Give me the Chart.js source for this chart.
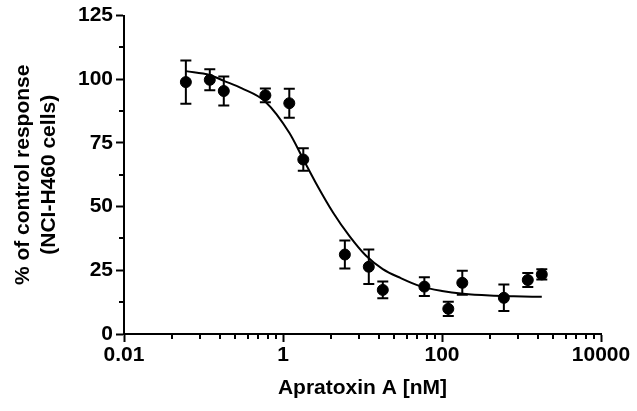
<!DOCTYPE html>
<html>
<head>
<meta charset="utf-8">
<script src="https://cdn.jsdelivr.net/npm/chart.js@4.4.0/dist/chart.umd.min.js"></script>
<style>
  html, body { margin: 0; padding: 0; background: #fff; }
</style>
</head>
<body>
<canvas id="Chart" width="637" height="411"></canvas>
<script>
// concentrações (nM) e respostas medidas
const conc = [0.06, 0.12, 0.18, 0.6, 1.2, 1.8, 6, 12, 18, 60, 120, 180, 600, 1200, 1800];
const response = [98.9, 99.8, 95.4, 93.7, 90.6, 68.5, 31.2, 26.4, 17.3, 18.6, 9.9, 20.1, 14.2, 21.2, 23.4];
const sem = [8.5, 4.1, 5.7, 2.7, 5.7, 4.4, 5.5, 6.8, 3.3, 3.7, 2.8, 4.7, 5.2, 2.7, 2.0];

// curva ajustada
const curveConc = [0.06, 0.12, 0.18, 0.3, 0.6, 1.2, 1.8, 2.6, 4.3, 6.9, 11, 18, 30, 53, 100, 185, 400, 800, 1800];
const curveFit = [103.2, 101.7, 99.4, 96.5, 91.2, 79.0, 68.6, 59.2, 47.5, 38.3, 30.8, 25.5, 22.0, 18.8, 16.9, 15.8, 15.1, 14.8, 14.6];

// eixos
const xMajorTicks = [0.01, 1, 100, 10000];
const xMinorTicks = [0.04, 0.09, 0.16, 0.25, 0.36, 0.49, 0.64, 0.81,
                     4, 9, 16, 25, 36, 49, 64, 81,
                     400, 900, 1600, 2500, 3600, 4900, 6400, 8100];
const yMinorTicks = [12.5, 37.5, 62.5, 87.5, 112.5];

const fontFamily = "'Liberation Sans', Arial, sans-serif";

// barras de erro + ticks menores
const extras = {
    id: 'extras',
    beforeDatasetsDraw(chart) {
        const ctx = chart.ctx;
        const x = chart.scales.x, y = chart.scales.y;
        ctx.save();
        ctx.strokeStyle = '#000';
        ctx.lineWidth = 2;
        conc.forEach(function (c, i) {
            const px = x.getPixelForValue(c);
            const top = y.getPixelForValue(response[i] + sem[i]);
            const bot = y.getPixelForValue(response[i] - sem[i]);
            ctx.beginPath();
            ctx.moveTo(px, top); ctx.lineTo(px, bot);
            ctx.moveTo(px - 5.5, top); ctx.lineTo(px + 5.5, top);
            ctx.moveTo(px - 5.5, bot); ctx.lineTo(px + 5.5, bot);
            ctx.stroke();
        });
        ctx.restore();
    },
    afterDraw(chart) {
        const ctx = chart.ctx;
        const x = chart.scales.x, y = chart.scales.y;
        const area = chart.chartArea;
        ctx.save();
        ctx.strokeStyle = '#000';
        ctx.lineWidth = 2;
        ctx.beginPath();
        xMinorTicks.forEach(function (v) {
            const px = Math.round(x.getPixelForValue(v));
            ctx.moveTo(px, area.bottom);
            ctx.lineTo(px, area.bottom + 5);
        });
        yMinorTicks.forEach(function (v) {
            const py = Math.round(y.getPixelForValue(v));
            ctx.moveTo(area.left, py);
            ctx.lineTo(area.left - 5, py);
        });
        ctx.stroke();
        ctx.restore();
    }
};

const data = {
    datasets: [{
        type: 'scatter',
        label: 'NCI-H460',
        data: conc.map(function (c, i) { return {x: c, y: response[i]}; }),
        backgroundColor: '#000',
        borderColor: '#000',
        pointRadius: 5.5,
        pointHoverRadius: 5.5
    }, {
        type: 'line',
        label: 'fit',
        data: curveConc.map(function (c, i) { return {x: c, y: curveFit[i]}; }),
        borderColor: '#000',
        borderWidth: 2,
        pointRadius: 0,
        fill: false,
        cubicInterpolationMode: 'monotone'
    }]
};

const config = {
    type: 'scatter',
    data: data,
    plugins: [extras],
    options: {
        responsive: false,
        animation: false,
        devicePixelRatio: 1,
        layout: { padding: { top: 15, right: 36, left: 0, bottom: 0 } },
        plugins: { legend: { display: false }, tooltip: { enabled: false } },
        scales: {
            x: {
                type: 'logarithmic',
                min: 0.01,
                max: 10000,
                afterBuildTicks: function (scale) {
                    scale.ticks = xMajorTicks.map(function (v) { return {value: v}; });
                },
                afterFit: function (scale) { scale.height = 77; },
                grid: { drawOnChartArea: false, tickLength: 8, tickWidth: 2, tickColor: '#000' },
                border: { display: true, color: '#000', width: 2 },
                ticks: {
                    color: '#000',
                    padding: 1,
                    maxRotation: 0,
                    autoSkip: false,
                    font: { family: fontFamily, size: 21, weight: 'bold' },
                    callback: function (v) { return String(v); }
                },
                title: {
                    display: true,
                    text: 'Apratoxin A [nM]',
                    color: '#000',
                    font: { family: fontFamily, size: 21, weight: 'bold' },
                    padding: { top: 0, bottom: 10 }
                }
            },
            y: {
                min: 0,
                max: 125,
                afterFit: function (scale) { scale.width = 124; },
                grid: { drawOnChartArea: false, tickLength: 8, tickWidth: 2, tickColor: '#000' },
                border: { display: true, color: '#000', width: 2 },
                ticks: {
                    stepSize: 25,
                    color: '#000',
                    padding: 3,
                    font: { family: fontFamily, size: 21, weight: 'bold' }
                },
                title: {
                    display: true,
                    text: ['% of control response', '(NCI-H460 cells)'],
                    color: '#000',
                    font: { family: fontFamily, size: 21, weight: 'bold', lineHeight: 1.25 },
                    padding: { top: 10, bottom: 0 }
                }
            }
        }
    }
};

var myChart = new Chart(document.getElementById('Chart'), config);
</script>
</body>
</html>
